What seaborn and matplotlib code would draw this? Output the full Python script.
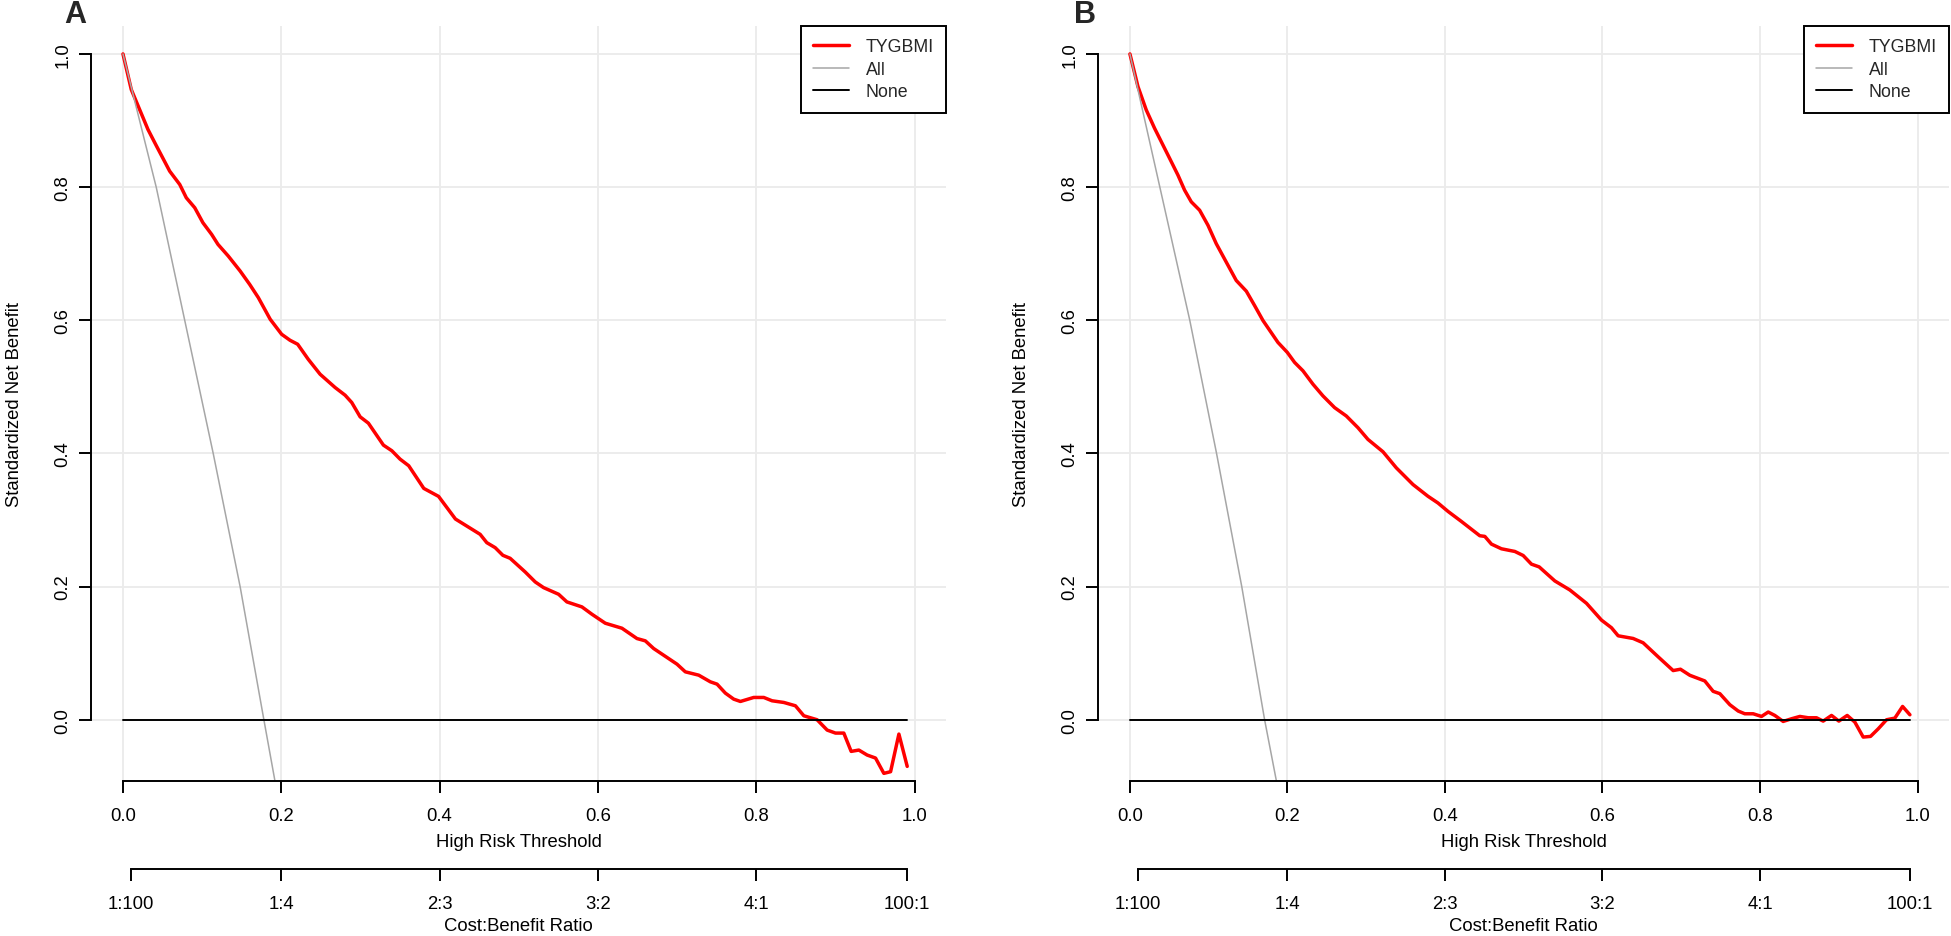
import matplotlib
matplotlib.use("Agg")
import matplotlib.pyplot as plt
import pandas as pd
import seaborn as sns
from matplotlib.ticker import FormatStrFormatter

# Panel A - TYGBMI standardized net benefit
a_thresh = [0.0, 0.0105, 0.0316, 0.042, 0.059, 0.0717, 0.080, 0.0907, 0.101, 0.112,
            0.120, 0.133, 0.148, 0.160, 0.171, 0.186, 0.2004, 0.211, 0.2207, 0.234,
            0.249, 0.268, 0.2806, 0.289, 0.2996, 0.310, 0.329, 0.3397, 0.350, 0.361,
            0.380, 0.3987, 0.420, 0.4512, 0.4596, 0.4702, 0.4799, 0.4891, 0.5081, 0.5208,
            0.5313, 0.5503, 0.5608, 0.5798, 0.5924, 0.6093, 0.6303, 0.6493, 0.6599, 0.6704,
            0.6999, 0.7104, 0.7273, 0.7420, 0.7505, 0.7610, 0.7715, 0.7800, 0.7968, 0.8095,
            0.8200, 0.8348, 0.8495, 0.8601, 0.8769, 0.8896, 0.9001, 0.9106, 0.9199, 0.9296,
            0.9401, 0.9507, 0.9612, 0.9697, 0.9802, 0.9907]
a_model = [1.0, 0.9465, 0.8865, 0.8625, 0.824, 0.804, 0.784, 0.769, 0.7465, 0.729,
           0.714, 0.6965, 0.674, 0.654, 0.634, 0.6015, 0.579, 0.570, 0.564, 0.5415,
           0.519, 0.499, 0.4875, 0.4765, 0.455, 0.4455, 0.4125, 0.404, 0.3915, 0.3815,
           0.3475, 0.3355, 0.3015, 0.2785, 0.266, 0.2585, 0.247, 0.2425, 0.222, 0.207,
           0.1985, 0.1885, 0.177, 0.1695, 0.1585, 0.145, 0.1375, 0.122, 0.1185, 0.107,
           0.0835, 0.072, 0.067, 0.057, 0.0535, 0.040, 0.031, 0.0275, 0.0335, 0.0335,
           0.0285, 0.026, 0.021, 0.006, 0.0, -0.0155, -0.020, -0.020, -0.0475, -0.0455,
           -0.053, -0.0575, -0.0805, -0.078, -0.0215, -0.070]
a_all_x = [0.0, 0.042, 0.078, 0.114, 0.148, 0.178, 0.192, 0.20]
a_all_y = [1.0, 0.8, 0.6, 0.4, 0.2, 0.0, -0.092, -0.15]

# Panel B
b_thresh = [0.0, 0.0102, 0.0207, 0.0313, 0.0419, 0.0504, 0.061, 0.0694, 0.0779, 0.0885,
            0.0991, 0.1096, 0.1223, 0.135, 0.1478, 0.1583, 0.169, 0.1879, 0.1998, 0.2091,
            0.2197, 0.2324, 0.2451, 0.2599, 0.2747, 0.2895, 0.3022, 0.3213, 0.3382, 0.3594,
            0.3784, 0.3911, 0.4038, 0.4207, 0.4442, 0.4506, 0.459, 0.4717, 0.4844, 0.4887,
            0.4993, 0.5098, 0.5196, 0.5395, 0.5585, 0.5797, 0.5987, 0.6114, 0.6199, 0.6389,
            0.6516, 0.6707, 0.6897, 0.6990, 0.7109, 0.7299, 0.7405, 0.749, 0.7617, 0.7723,
            0.7807, 0.7913, 0.8019, 0.8104, 0.8188, 0.8294, 0.84, 0.8506, 0.8612, 0.8717,
            0.8802, 0.8908, 0.9001, 0.9107, 0.9204, 0.931, 0.9403, 0.9501, 0.9606, 0.9712,
            0.981, 0.9903]
b_model = [1.0, 0.951, 0.916, 0.8884, 0.8633, 0.8432, 0.818, 0.7955, 0.7779, 0.7653,
           0.7427, 0.7151, 0.6874, 0.6598, 0.6437, 0.6221, 0.5995, 0.5668, 0.5518, 0.5367,
           0.5241, 0.504, 0.4864, 0.4688, 0.4563, 0.4387, 0.4211, 0.4025, 0.3784, 0.3533,
           0.3357, 0.3256, 0.313, 0.298, 0.2764, 0.2754, 0.2638, 0.2568, 0.2538, 0.2528,
           0.2467, 0.2337, 0.2296, 0.2085, 0.195, 0.1749, 0.1497, 0.1382, 0.1261, 0.1221,
           0.1156, 0.0945, 0.0739, 0.0759, 0.0668, 0.0583, 0.0427, 0.0392, 0.0226, 0.0131,
           0.009, 0.009, 0.005, 0.0116, 0.0065, -0.0025, 0.0015, 0.005, 0.003, 0.003,
           -0.002, 0.0065, -0.002, 0.0065, -0.0035, -0.026, -0.025, -0.0136, 0.0, 0.0025,
           0.020, 0.0075]
b_all_x = [0.0, 0.038, 0.076, 0.110, 0.142, 0.171, 0.186, 0.195]
b_all_y = [1.0, 0.8, 0.6, 0.4, 0.2, 0.0, -0.092, -0.15]

none_x = [0.0, 0.99]
none_y = [0.0, 0.0]

x_ticks = [0.0, 0.2, 0.4, 0.6, 0.8, 1.0]
y_ticks = [0.0, 0.2, 0.4, 0.6, 0.8, 1.0]
cb_pos = [0.0099, 0.2, 0.4, 0.6, 0.8, 0.9901]
cb_labels = ["1:100", "1:4", "2:3", "3:2", "4:1", "100:1"]

sns.set_theme(style="whitegrid")
plt.rcParams["font.family"] = ["Liberation Sans", "DejaVu Sans"]

fig = plt.figure(figsize=(19.51, 9.37), dpi=100)

panels = [
    ("A", 0.0468, 0.4382, 0.0384, a_thresh, a_model, a_all_x, a_all_y),
    ("B", 0.5630, 0.4360, 0.5561, b_thresh, b_model, b_all_x, b_all_y),
]

for letter, left, width, letter_x, tx, ty, ax_x, ax_y in panels:
    ax = fig.add_axes([left, 0.1654, width, 0.8058])
    ax.set_facecolor("white")

    sns.lineplot(x=tx, y=ty, ax=ax, color="#FF0000", lw=2.5, label="TYGBMI",
                 estimator=None, sort=False)
    sns.lineplot(x=ax_x, y=ax_y, ax=ax, color="#A6A6A6", lw=1.1, label="All",
                 estimator=None, sort=False)
    sns.lineplot(x=none_x, y=none_y, ax=ax, color="black", lw=1.4, label="None",
                 estimator=None, sort=False)

    ax.set_xlim(-0.04, 1.04)
    ax.set_ylim(-0.092, 1.042)
    ax.set_xticks(x_ticks)
    ax.set_yticks(y_ticks)
    ax.xaxis.set_major_formatter(FormatStrFormatter("%.1f"))
    ax.yaxis.set_major_formatter(FormatStrFormatter("%.1f"))
    ax.grid(True, color="#EBEBEB", lw=1.3)
    ax.set_axisbelow(True)

    for s in ["top", "right"]:
        ax.spines[s].set_visible(False)
    for s in ["left", "bottom"]:
        ax.spines[s].set_visible(True)
        ax.spines[s].set_color("black")
        ax.spines[s].set_linewidth(1.4)
        ax.spines[s].set_bounds(0, 1)

    ax.tick_params(axis="both", which="major", direction="out", length=8.5,
                   width=1.4, color="black", labelsize=13.3, labelcolor="black",
                   bottom=True, left=True)
    ax.tick_params(axis="x", pad=10)
    ax.tick_params(axis="y", pad=6)
    for lab in ax.get_yticklabels():
        lab.set_rotation(90)
        lab.set_va("center")

    ax.set_xlabel("High Risk Threshold", fontsize=13.3, color="black")
    ax.set_ylabel("Standardized Net Benefit", fontsize=13.3, color="black")
    ax.xaxis.set_label_coords(0.5, -0.069)
    ax.yaxis.set_label_coords(-0.080, 0.5)

    leg = ax.legend(loc="upper right", borderaxespad=0, fontsize=12.8,
                    frameon=True, fancybox=False, handlelength=2.0,
                    handletextpad=0.95, labelspacing=0.3, borderpad=0.7)
    leg.get_frame().set_edgecolor("black")
    leg.get_frame().set_linewidth(1.4)
    leg.get_frame().set_alpha(1)

    # cost:benefit ratio axis underneath
    ax2 = fig.add_axes([left, 0.0715, width, 0.0001])
    ax2.set_facecolor("none")
    ax2.set_xlim(-0.04, 1.04)
    ax2.set_yticks([])
    ax2.grid(False)
    for s in ["top", "right", "left"]:
        ax2.spines[s].set_visible(False)
    ax2.spines["bottom"].set_visible(True)
    ax2.spines["bottom"].set_color("black")
    ax2.spines["bottom"].set_linewidth(1.4)
    ax2.spines["bottom"].set_bounds(cb_pos[0], cb_pos[-1])
    ax2.set_xticks(cb_pos)
    ax2.set_xticklabels(cb_labels)
    ax2.tick_params(axis="x", direction="out", length=8.5, width=1.4, color="black",
                    labelsize=13.3, labelcolor="black", pad=10, bottom=True)
    ax2.set_xlabel("Cost:Benefit Ratio", fontsize=13.3, color="black", labelpad=4)

    fig.text(letter_x, 0.984, letter, fontsize=22, fontweight="bold",
             ha="center", va="center")

fig.savefig("out.png", dpi=100, facecolor="white")
